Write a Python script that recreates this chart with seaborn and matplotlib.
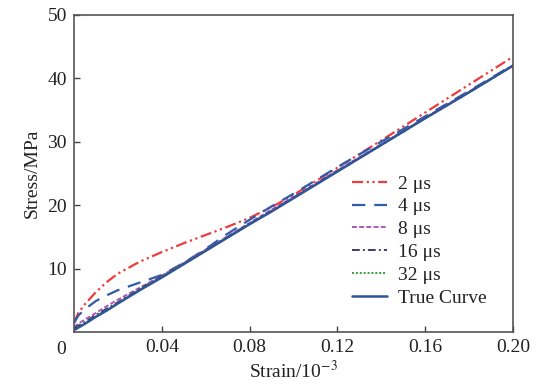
import matplotlib
matplotlib.use("Agg")
import matplotlib.pyplot as plt
import seaborn as sns
import numpy as np
import pandas as pd

sns.set_theme(style="white")
plt.rcParams['font.family'] = ['Liberation Serif', 'DejaVu Serif']
plt.rcParams['mathtext.fontset'] = 'stix'

strain = [0, 0.002, 0.005, 0.01, 0.015, 0.02, 0.03, 0.04, 0.05, 0.06, 0.07, 0.08,
          0.09, 0.10, 0.12, 0.14, 0.16, 0.18, 0.20]

s2 = [1.5, 3.0, 4.4, 6.3, 7.9, 9.2, 11.1, 12.6, 14.0, 15.3, 16.6, 18.0,
      19.7, 21.6, 25.9, 30.2, 34.6, 39.0, 43.4]
s4 = [1.4, 2.6, 3.6, 4.9, 5.8, 6.6, 7.8, 9.0, 10.9, 13.1, 15.5, 17.7,
      19.8, 21.8, 26.0, 30.0, 34.0, 38.0, 42.1]
s8 = [0.8, 1.3, 2.0, 3.0, 4.1, 5.1, 7.0, 8.9, 10.9, 13.0, 15.1, 17.2,
      19.3, 21.3, 25.5, 29.6, 33.8, 37.9, 42.0]
s16 = [0.6, 1.0, 1.6, 2.7, 3.7, 4.7, 6.8, 8.8, 10.8, 12.9, 15.0, 17.1,
       19.1, 21.2, 25.4, 29.5, 33.7, 37.8, 42.0]
s32 = [0.4, 0.8, 1.4, 2.5, 3.5, 4.6, 6.7, 8.7, 10.8, 12.8, 14.9, 17.0,
       19.0, 21.1, 25.3, 29.5, 33.7, 37.8, 42.0]
true_curve = [0.3, 0.7, 1.3, 2.4, 3.4, 4.5, 6.6, 8.6, 10.7, 12.8, 14.9, 17.0,
              19.0, 21.1, 25.3, 29.5, 33.7, 37.8, 42.0]

labels = ["2 μs", "4 μs", "8 μs", "16 μs", "32 μs", "True Curve"]
series = [s2, s4, s8, s16, s32, true_curve]
colors = ["#EE3B3B", "#2F5BAA", "#B257B8", "#3B3B6E", "#3A9A3A", "#2F5597"]
styles = [(0, (5, 1.6, 1, 1.6, 1, 1.6)), (0, (6, 4)), (0, (2.5, 1.2)),
          (0, (4, 1.6, 1, 1.6)), (0, (1, 1)), "-"]
widths = [1.6, 1.6, 1.4, 1.4, 1.4, 1.8]

FS = 14

fig = plt.figure(figsize=(5.36, 3.92), dpi=100)
ax = fig.add_axes([0.138, 0.153, 0.819, 0.809])

for lab, ys, c, ls, lw in zip(labels, series, colors, styles, widths):
    df = pd.DataFrame({"strain": strain, "stress": ys})
    sns.lineplot(data=df, x="strain", y="stress", ax=ax, color=c,
                 linestyle=ls, linewidth=lw, label=lab, sort=False)

ax.set_xlim(0, 0.20)
ax.set_ylim(0, 50)
ax.set_xticks([0.04, 0.08, 0.12, 0.16, 0.20])
ax.set_xticklabels(["0.04", "0.08", "0.12", "0.16", "0.20"])
ax.set_yticks([10, 20, 30, 40, 50])
ax.set_yticklabels(["10", "20", "30", "40", "50"])
ax.text(-0.03, -0.054, "0", transform=ax.transAxes, ha="center", va="center",
        fontsize=FS, color="#222222")

ax.tick_params(direction="in", length=4, width=1, colors="#444444",
               labelcolor="#222222", labelsize=FS, pad=5,
               bottom=True, left=True, top=False, right=False)
for sp in ax.spines.values():
    sp.set_color("#555555")
    sp.set_linewidth(1.2)

ax.set_xlabel("Strain/10$^{-3}$", fontsize=FS, color="#222222", labelpad=3)
ax.set_ylabel("Stress/MPa", fontsize=FS, color="#222222", labelpad=5)

leg = ax.legend(loc="upper left", bbox_to_anchor=(0.616, 0.52), frameon=False,
                fontsize=FS, handlelength=1.8, handletextpad=0.55,
                labelspacing=0.27, borderaxespad=0)
for t in leg.get_texts():
    t.set_color("#222222")

fig.savefig("out.png", dpi=100)
